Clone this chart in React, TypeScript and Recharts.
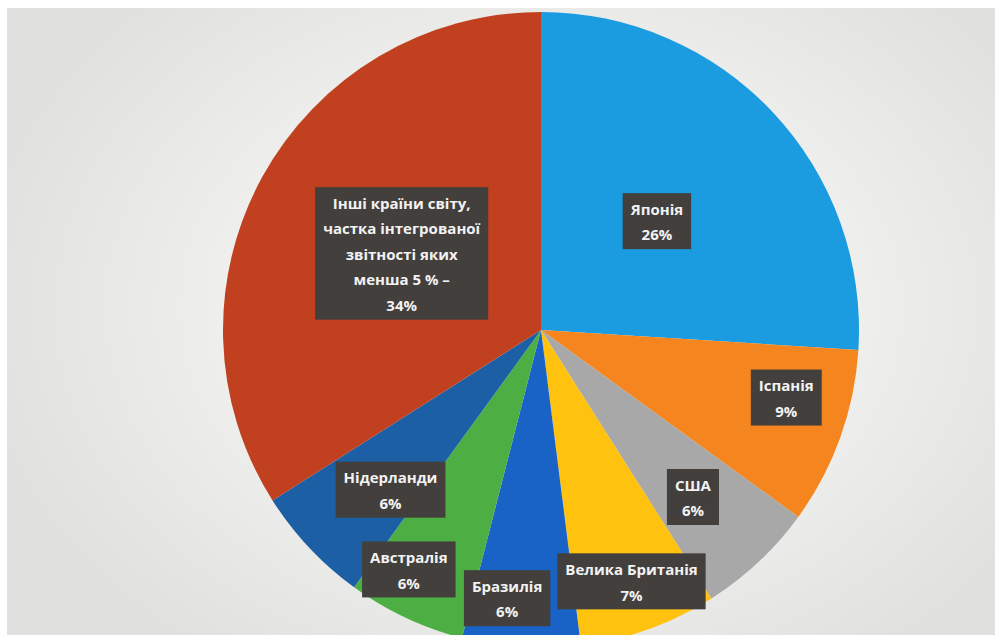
import React from 'react';
import { PieChart, Pie, Cell } from 'recharts';

const countries = [
  'Японія',
  'Іспанія',
  'США',
  'Велика Британія',
  'Бразилія',
  'Австралія',
  'Нідерланди',
  'Інші країни світу,\nчастка інтегрованої\nзвітності яких\nменша 5 % –',
];
const shares = [26, 9, 6, 7, 6, 6, 6, 34];

const COLORS = ['#1b9be0', '#f5861f', '#a8a8a8', '#ffc20f', '#1a63c6', '#4dae43', '#1c5fa4', '#c0401f'];

// label placement: fraction of the radius, and angle nudge in degrees (clockwise)
const LABEL_R = [0.5, 0.8, 0.71, 0.84, 0.85, 0.86, 0.69, 0.5];
const LABEL_NUDGE = [0, -4.4, 0.9, 0, 3.6, 3.7, -3.5, 0];

const data = countries.map((name, i) => ({ name, value: shares[i] }));

const FONT = 'bold 15px "Open Sans"';
const RAD = Math.PI / 180;

let ctx: CanvasRenderingContext2D | null = null;
const measure = (s: string) => {
  if (!ctx) ctx = document.createElement('canvas').getContext('2d');
  if (!ctx) return s.length * 9;
  ctx.font = FONT;
  return ctx.measureText(s).width;
};

const renderLabel = (props: any) => {
  const { cx, cy, midAngle, outerRadius, index, value, name } = props;
  const r = outerRadius * LABEL_R[index];
  const ang = midAngle - LABEL_NUDGE[index];
  const x = cx + r * Math.cos(-ang * RAD);
  const y = cy + r * Math.sin(-ang * RAD);
  const lines = [...String(name).split('\n'), `${value}%`];
  const lh = 25.5;
  const w = Math.max(...lines.map(measure)) + 16;
  const h = lines.length * lh + 5;
  const top = y - h / 2;
  return (
    <g key={`lbl-${index}`}>
      <rect x={x - w / 2} y={top} width={w} height={h} fill="#423f3d" />
      {lines.map((ln, i) => (
        <text
          key={i}
          x={x}
          y={top + 3 + lh * i + lh / 2}
          textAnchor="middle"
          dominantBaseline="central"
          fill="#f2f2f2"
          style={{ font: FONT }}
        >
          {ln}
        </text>
      ))}
    </g>
  );
};

export default function App() {
  return (
    <div style={{ position: 'absolute', left: 0, top: 0, width: 995, height: 641, background: '#ffffff', overflow: 'hidden' }}>
      <div
        style={{
          position: 'absolute',
          left: 7,
          top: 8,
          width: 988,
          height: 627,
          background: 'radial-gradient(ellipse 560px 420px at 534px 300px, #fbfbfa 0%, #efefed 55%, #e1e1df 100%)',
        }}
      />
      {/* clip the pie at the bottom edge of the grey panel */}
      <div style={{ position: 'absolute', left: 0, top: 0, width: 995, height: 635, overflow: 'hidden' }}>
        <PieChart width={995} height={641} margin={{ top: 0, right: 0, bottom: 0, left: 0 }}>
          <Pie
            data={data}
            dataKey="value"
            nameKey="name"
            cx={541}
            cy={330}
            outerRadius={318}
            startAngle={90}
            endAngle={-270}
            stroke="none"
            labelLine={false}
            label={renderLabel}
            isAnimationActive={false}
          >
            {data.map((d, i) => (
              <Cell key={d.name} fill={COLORS[i]} />
            ))}
          </Pie>
        </PieChart>
      </div>
    </div>
  );
}
